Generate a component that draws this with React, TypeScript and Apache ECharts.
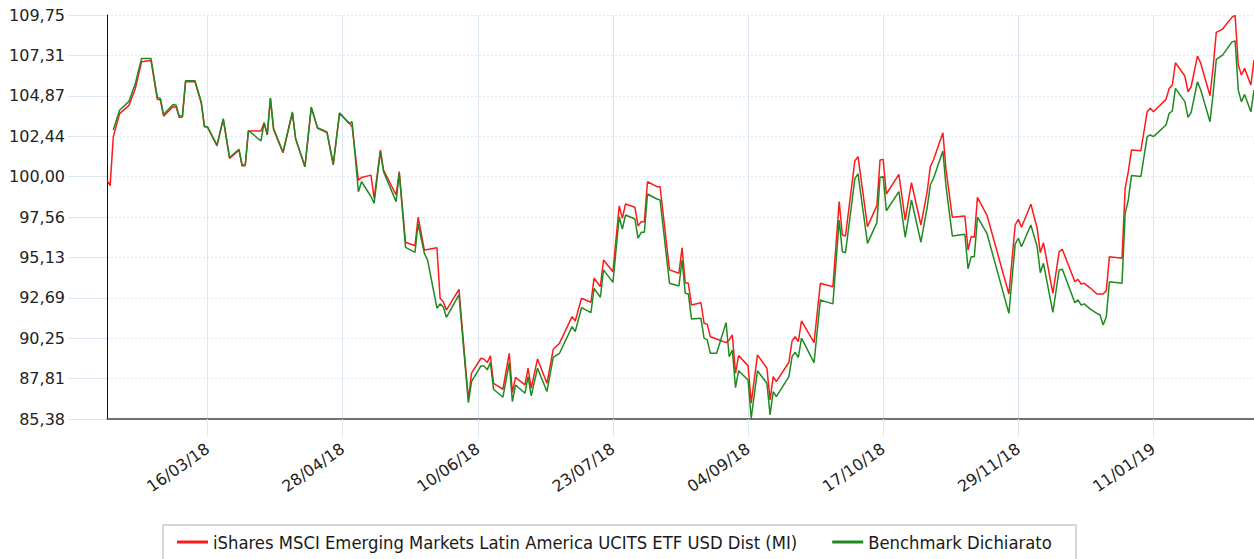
import React, { useEffect, useRef } from "react";
import * as echarts from "echarts";

const seriesNames = [
  "iShares MSCI Emerging Markets Latin America UCITS ETF USD Dist (MI)",
  "Benchmark Dichiarato",
];

const dates = [
  "2018-02-12","2018-02-13","2018-02-14","2018-02-16","2018-02-19","2018-02-21","2018-02-23","2018-02-26","2018-02-28","2018-03-01",
  "2018-03-02","2018-03-05","2018-03-06","2018-03-07","2018-03-08","2018-03-09","2018-03-12","2018-03-14","2018-03-15","2018-03-16",
  "2018-03-19","2018-03-21","2018-03-23","2018-03-26","2018-03-27","2018-03-28","2018-03-29","2018-04-02","2018-04-03","2018-04-04",
  "2018-04-05","2018-04-06","2018-04-09","2018-04-12","2018-04-13","2018-04-16","2018-04-18","2018-04-20","2018-04-23","2018-04-25",
  "2018-04-27","2018-04-30","2018-05-01","2018-05-03","2018-05-04","2018-05-07","2018-05-08","2018-05-10","2018-05-11","2018-05-15",
  "2018-05-16","2018-05-18","2018-05-21","2018-05-22","2018-05-24","2018-05-25","2018-05-28","2018-05-29","2018-05-30","2018-05-31",
  "2018-06-04","2018-06-07","2018-06-08","2018-06-11","2018-06-12","2018-06-13","2018-06-14","2018-06-15","2018-06-18","2018-06-20",
  "2018-06-21","2018-06-22","2018-06-25","2018-06-26","2018-06-27","2018-06-29","2018-07-02","2018-07-04","2018-07-06","2018-07-10",
  "2018-07-11","2018-07-13","2018-07-16","2018-07-17","2018-07-19","2018-07-20","2018-07-23","2018-07-25","2018-07-26","2018-07-27",
  "2018-07-30","2018-07-31","2018-08-01","2018-08-02","2018-08-03","2018-08-06","2018-08-07","2018-08-10","2018-08-13","2018-08-14",
  "2018-08-15","2018-08-16","2018-08-17","2018-08-20","2018-08-21","2018-08-22","2018-08-23","2018-08-25","2018-08-28","2018-08-29",
  "2018-08-30","2018-08-31","2018-09-01","2018-09-04","2018-09-05","2018-09-07","2018-09-10","2018-09-11","2018-09-12","2018-09-13",
  "2018-09-17","2018-09-18","2018-09-19","2018-09-20","2018-09-21","2018-09-25","2018-09-27","2018-10-01","2018-10-03","2018-10-04",
  "2018-10-05","2018-10-08","2018-10-09","2018-10-12","2018-10-15","2018-10-16","2018-10-17","2018-10-18","2018-10-22","2018-10-24",
  "2018-10-26","2018-10-29","2018-10-31","2018-11-01","2018-11-02","2018-11-05","2018-11-06","2018-11-08","2018-11-12","2018-11-13",
  "2018-11-14","2018-11-15","2018-11-16","2018-11-19","2018-11-26","2018-11-28","2018-11-29","2018-11-30","2018-12-03","2018-12-05",
  "2018-12-06","2018-12-07","2018-12-10","2018-12-12","2018-12-13","2018-12-17","2018-12-18","2018-12-19","2018-12-20","2018-12-22",
  "2018-12-24","2018-12-25","2018-12-26","2018-12-27","2018-12-28","2019-01-01","2019-01-02","2019-01-03","2019-01-04","2019-01-07",
  "2019-01-09","2019-01-10","2019-01-11","2019-01-15","2019-01-16","2019-01-17","2019-01-18","2019-01-21","2019-01-22","2019-01-23",
  "2019-01-25","2019-01-26","2019-01-29","2019-01-30","2019-01-31","2019-02-02","2019-02-05","2019-02-06","2019-02-07","2019-02-08",
  "2019-02-09","2019-02-11","2019-02-12",
];

const fund = [
  99.79, 99.45, 102.40, 103.80, 104.30, 105.30, 106.93, 107.00, 104.66, 104.62,
  103.65, 104.22, 104.20, 103.57, 103.60, 105.72, 105.72, 104.42, 103.00, 102.97,
  101.85, 103.47, 101.10, 101.60, 100.64, 100.67, 102.75, 102.75, 103.25, 102.51,
  104.72, 102.85, 101.44, 103.85, 102.30, 100.60, 104.16, 102.91, 102.65, 100.70,
  103.81, 103.25, 103.01, 99.79, 99.95, 100.09, 98.69, 101.60, 100.40, 98.89,
  100.30, 96.04, 95.83, 97.55, 95.57, 95.60, 95.71, 92.66, 92.45, 91.95,
  93.20, 86.53, 88.14, 89.04, 88.98, 88.78, 89.18, 87.53, 87.17, 89.34,
  86.97, 87.89, 87.43, 88.44, 87.23, 89.00, 87.53, 89.58, 89.95, 91.55,
  91.29, 92.66, 92.42, 93.87, 93.36, 94.97, 94.26, 98.23, 97.48, 98.35,
  98.15, 97.02, 97.28, 97.28, 99.69, 99.39, 99.39, 94.37, 94.17, 95.71,
  93.60, 93.56, 92.25, 92.39, 91.15, 91.10, 90.34, 90.20, 89.98, 90.14,
  90.45, 88.14, 89.20, 88.58, 86.33, 89.24, 88.44, 86.53, 87.93, 87.63,
  88.80, 90.08, 90.34, 90.04, 91.29, 89.98, 93.56, 93.36, 98.49, 96.48,
  96.42, 100.96, 101.20, 96.98, 98.25, 101.00, 101.04, 98.95, 100.14, 97.38,
  99.63, 97.08, 99.09, 100.60, 101.00, 102.65, 100.40, 97.55, 97.62, 95.57,
  96.38, 96.34, 98.75, 97.68, 92.92, 97.08, 97.42, 96.94, 98.33, 96.88,
  95.41, 96.01, 92.96, 95.47, 95.61, 93.66, 93.80, 93.52, 93.56, 93.26,
  92.92, 92.92, 92.92, 93.12, 95.17, 95.07, 99.29, 100.30, 101.60, 101.56,
  103.91, 104.12, 103.91, 104.66, 105.32, 105.52, 106.87, 106.07, 105.12, 105.42,
  107.27, 106.87, 104.88, 106.63, 108.70, 108.90, 109.62, 109.72, 106.73, 106.13,
  106.53, 105.52, 107.03,
];

const benchmark = [
  null, null, 102.81, 104.00, 104.54, 105.60, 107.13, 107.13, 104.80, 104.70,
  103.75, 104.35, 104.30, 103.65, 103.65, 105.78, 105.78, 104.50, 103.05, 103.00,
  101.90, 103.50, 101.15, 101.65, 100.70, 100.70, 102.78, 102.15, 103.25, 102.55,
  104.75, 102.90, 101.48, 103.90, 102.30, 100.60, 104.20, 102.95, 102.70, 100.75,
  103.85, 103.20, 103.31, 99.09, 99.69, 98.80, 98.39, 101.50, 100.30, 98.49,
  100.20, 95.73, 95.43, 97.14, 95.37, 94.97, 92.06, 92.32, 92.15, 91.51,
  92.86, 86.36, 87.63, 88.58, 88.58, 88.34, 88.78, 87.17, 86.69, 88.78,
  86.42, 87.43, 86.93, 87.93, 86.77, 88.44, 87.03, 89.10, 89.34, 90.95,
  90.65, 92.09, 91.79, 93.26, 92.72, 94.37, 93.62, 97.58, 96.84, 97.68,
  97.44, 96.28, 96.64, 96.64, 98.95, 98.65, 98.59, 93.56, 93.40, 94.97,
  92.96, 92.92, 91.41, 91.45, 90.25, 90.15, 89.34, 89.34, 91.19, 89.14,
  89.54, 87.27, 88.29, 87.73, 85.42, 88.29, 87.53, 85.62, 87.03, 86.73,
  87.93, 89.14, 89.40, 89.10, 90.25, 88.78, 92.56, 92.32, 97.38, 95.47,
  95.41, 99.89, 100.16, 95.97, 97.22, 99.95, 100.00, 97.94, 99.09, 96.34,
  98.59, 96.04, 98.15, 99.49, 99.89, 101.54, 99.39, 96.42, 96.52, 94.43,
  95.17, 95.17, 97.55, 96.58, 91.75, 95.93, 96.28, 95.77, 97.08, 95.77,
  94.20, 94.77, 91.81, 94.37, 94.41, 92.39, 92.56, 92.25, 92.32, 91.99,
  91.75, 91.65, 91.05, 91.55, 93.66, 93.56, 97.78, 98.59, 100.06, 100.00,
  102.41, 102.51, 102.41, 103.11, 103.81, 103.96, 105.32, 104.52, 103.57, 103.87,
  105.72, 105.26, 103.31, 105.02, 107.07, 107.33, 108.13, 108.19, 105.22, 104.52,
  104.96, 103.91, 105.22,
];

const yTickValues = [85.375, 87.8125, 90.25, 92.6875, 95.125, 97.5625, 100, 102.4375, 104.875, 107.3125, 109.75];
const yTickLabels = ["85,38", "87,81", "90,25", "92,69", "95,13", "97,56", "100,00", "102,44", "104,87", "107,31", "109,75"];

const xTickDates = ["2018-03-16", "2018-04-28", "2018-06-10", "2018-07-23", "2018-09-04", "2018-10-17", "2018-11-29", "2019-01-11"];
const xTickLabels = ["16/03/18", "28/04/18", "10/06/18", "23/07/18", "04/09/18", "17/10/18", "29/11/18", "11/01/19"];

const xRange = ["2018-02-12", "2019-02-12"];

// day number (UTC) of a yyyy-mm-dd string
const dayNum = (s: string) => {
  const [y, m, d] = s.split("-").map(Number);
  return Math.round(Date.UTC(y, m - 1, d) / 86400000);
};

export default function App() {
  const ref = useRef<HTMLDivElement>(null);

  useEffect(() => {
    if (!ref.current) return;
    const chart = echarts.init(ref.current, null, { renderer: "svg" });
    const xTickDays = xTickDates.map(dayNum);
    const fundData = dates.map((d, i) => [dayNum(d), fund[i]]);
    const benchData = dates
      .map((d, i) => [dayNum(d), benchmark[i]])
      .filter((p) => p[1] !== null);
    const gridColor = "#dce7f3";
    const labelFont = "DejaVu Sans";

    chart.setOption({
      animation: false,
      grid: { left: 107, top: 15, right: 0, bottom: 140, containLabel: false },
      graphic: [
        {
          type: "rect",
          shape: { x: 163, y: 525, width: 913, height: 60 },
          style: { fill: "none", stroke: "#d6d6d6", lineWidth: 2 },
          silent: true,
        },
      ],
      legend: {
        left: 177,
        top: 531,
        padding: 0,
        itemGap: 35,
        itemWidth: 31,
        itemHeight: 3,
        icon: "rect",
        data: seriesNames,
        textStyle: {
          fontFamily: "DejaVu Sans Condensed",
          fontSize: 18.3,
          color: "#1a1a1a",
          lineHeight: 22,
        },
      },
      xAxis: {
        type: "value",
        min: dayNum(xRange[0]),
        max: dayNum(xRange[1]),
        axisLine: { show: true, onZero: false, lineStyle: { color: "#444", width: 1.5 } },
        axisTick: {
          show: true,
          customValues: xTickDays,
          length: 18,
          lineStyle: { color: gridColor, width: 1 },
        },
        axisLabel: {
          customValues: xTickDays,
          rotate: 35,
          margin: 28,
          fontFamily: labelFont,
          fontSize: 16,
          color: "#222",
          formatter: (v: number) => {
            const i = xTickDays.findIndex((t) => Math.abs(t - v) < 0.5);
            return i >= 0 ? xTickLabels[i] : "";
          },
        },
        splitLine: { show: true, lineStyle: { color: gridColor, width: 1, type: "solid" } },
      },
      yAxis: {
        type: "value",
        min: yTickValues[0],
        max: yTickValues[yTickValues.length - 1],
        axisLine: { show: true, onZero: false, lineStyle: { color: "#111", width: 1 } },
        axisTick: {
          show: true,
          customValues: yTickValues,
          length: 39,
          lineStyle: { color: gridColor, width: 1 },
        },
        axisLabel: {
          customValues: yTickValues,
          margin: 42,
          fontFamily: labelFont,
          fontSize: 16,
          color: "#222",
          formatter: (v: number) => {
            const i = yTickValues.findIndex((t) => Math.abs(t - v) < 1e-6);
            return i >= 0 ? yTickLabels[i] : "";
          },
        },
        splitLine: { show: true, lineStyle: { color: gridColor, width: 1, type: [2, 2] } },
      },
      series: [
        {
          name: seriesNames[0],
          type: "line",
          data: fundData,
          showSymbol: false,
          symbol: "none",
          color: "#ff1a1a",
          lineStyle: { color: "#ff1a1a", width: 1.5 },
          z: 2,
        },
        {
          name: seriesNames[1],
          type: "line",
          data: benchData,
          showSymbol: false,
          symbol: "none",
          color: "#1f8a1f",
          lineStyle: { color: "#1f8a1f", width: 1.5 },
          z: 3,
        },
      ],
    });
    return () => chart.dispose();
  }, []);

  return (
    <div
      ref={ref}
      style={{ position: "absolute", left: 0, top: 0, width: 1254, height: 559 }}
    />
  );
}
